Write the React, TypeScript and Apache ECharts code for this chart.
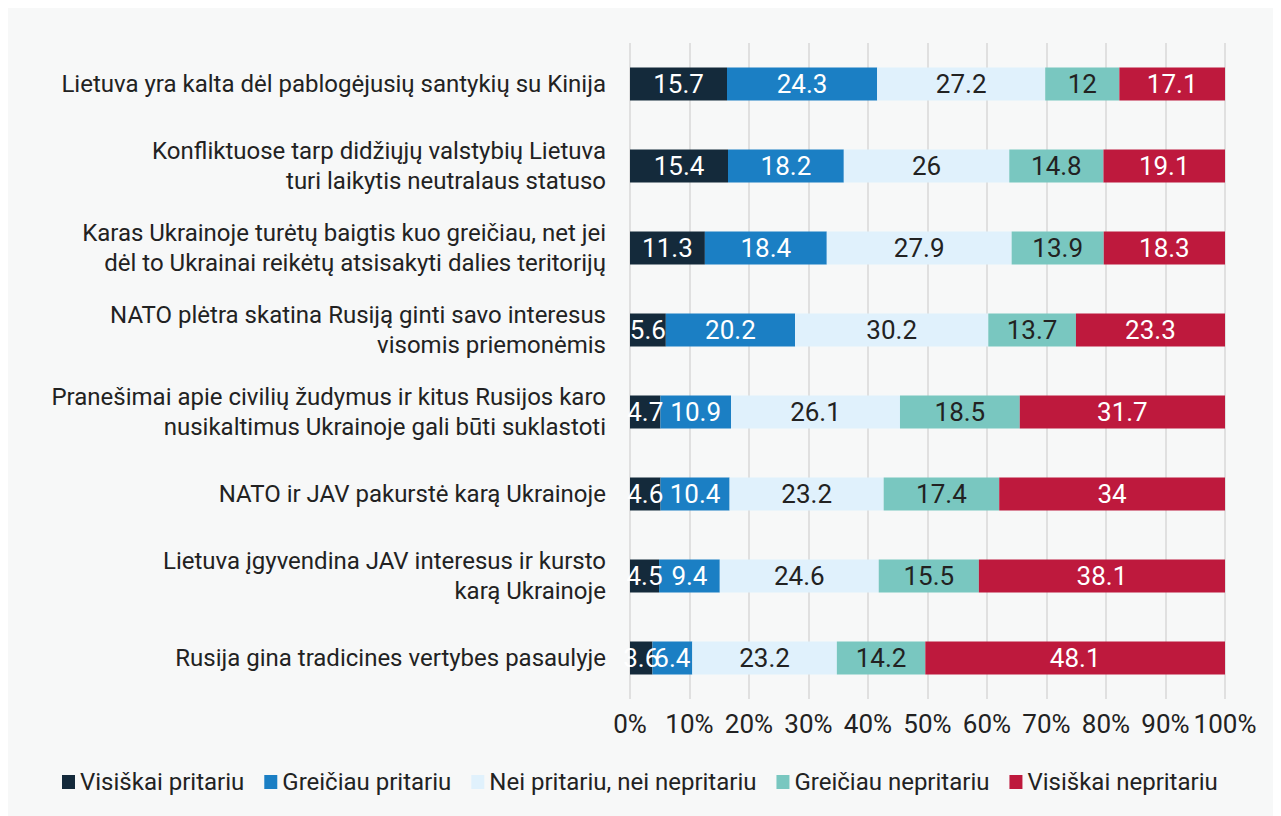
import React, { useEffect, useRef } from "react";
import * as echarts from "echarts";

const categories = [
  "Lietuva yra kalta dėl pablogėjusių santykių su Kinija",
  "Konfliktuose tarp didžiųjų valstybių Lietuva\nturi laikytis neutralaus statuso",
  "Karas Ukrainoje turėtų baigtis kuo greičiau, net jei\ndėl to Ukrainai reikėtų atsisakyti dalies teritorijų",
  "NATO plėtra skatina Rusiją ginti savo interesus\nvisomis priemonėmis",
  "Pranešimai apie civilių žudymus ir kitus Rusijos karo\nnusikaltimus Ukrainoje gali būti suklastoti",
  "NATO ir JAV pakurstė karą Ukrainoje",
  "Lietuva įgyvendina JAV interesus ir kursto\nkarą Ukrainoje",
  "Rusija gina tradicines vertybes pasaulyje",
];

const seriesNames = [
  "Visiškai pritariu",
  "Greičiau pritariu",
  "Nei pritariu, nei nepritariu",
  "Greičiau nepritariu",
  "Visiškai nepritariu",
];

const visiskaiPritariu = [15.7, 15.4, 11.3, 5.6, 4.7, 4.6, 4.5, 3.6];
const greiciauPritariu = [24.3, 18.2, 18.4, 20.2, 10.9, 10.4, 9.4, 6.4];
const neiPritariu = [27.2, 26, 27.9, 30.2, 26.1, 23.2, 24.6, 23.2];
const greiciauNepritariu = [12, 14.8, 13.9, 13.7, 18.5, 17.4, 15.5, 14.2];
const visiskaiNepritariu = [17.1, 19.1, 18.3, 23.3, 31.7, 34, 38.1, 48.1];

const xTicks = ["0%", "10%", "20%", "30%", "40%", "50%", "60%", "70%", "80%", "90%", "100%"];

const colors = ["#142a3b", "#1b7fc4", "#e0f1fc", "#79c7c0", "#be193d"];
const labelColors = ["#ffffff", "#ffffff", "#222222", "#222222", "#ffffff"];

export default function App() {
  const ref = useRef<HTMLDivElement>(null);

  useEffect(() => {
    if (!ref.current) return;
    const chart = echarts.init(ref.current, undefined, { renderer: "svg" });
    const raw = [visiskaiPritariu, greiciauPritariu, neiPritariu, greiciauNepritariu, visiskaiNepritariu];
    const totals = categories.map((_, i) => raw.reduce((s, arr) => s + arr[i], 0));

    const series = raw.map((arr, k) => ({
      name: seriesNames[k],
      type: "bar",
      stack: "total",
      barWidth: 33,
      itemStyle: { color: colors[k] },
      label: {
        show: true,
        position: "inside",
        color: labelColors[k],
        fontSize: 26,
        fontFamily: "Roboto",
        formatter: (p: any) => String(arr[p.dataIndex]),
      },
      emphasis: { disabled: true },
      data: arr.map((v, i) => (v / totals[i]) * 100),
    }));

    chart.setOption({
      animation: false,
      backgroundColor: "#f7f8f8",
      textStyle: { fontFamily: "Roboto" },
      grid: { left: 622, right: 56, top: 35, bottom: 117 },
      legend: {
        data: seriesNames,
        left: 49,
        top: 757,
        icon: "rect",
        itemWidth: 13,
        itemHeight: 14,
        itemGap: 20,
        textStyle: { fontSize: 24, color: "#222222", fontFamily: "Roboto" },
      },
      xAxis: {
        type: "value",
        min: 0,
        max: 100,
        interval: 10,
        axisLine: { show: false },
        axisTick: { show: false },
        splitLine: { show: true, lineStyle: { color: "#e0e0e0", width: 2 } },
        axisLabel: {
          fontSize: 26,
          color: "#222222",
          margin: 12,
          formatter: (v: number) => xTicks[Math.round(v / 10)],
        },
      },
      yAxis: {
        type: "category",
        inverse: true,
        data: categories,
        axisLine: { show: false },
        axisTick: { show: false },
        axisLabel: {
          fontSize: 24,
          color: "#222222",
          margin: 24,
          lineHeight: 30,
          align: "right",
        },
      },
      series,
    });
    return () => chart.dispose();
  }, []);

  return <div ref={ref} style={{ width: 1273, height: 808 }} />;
}
